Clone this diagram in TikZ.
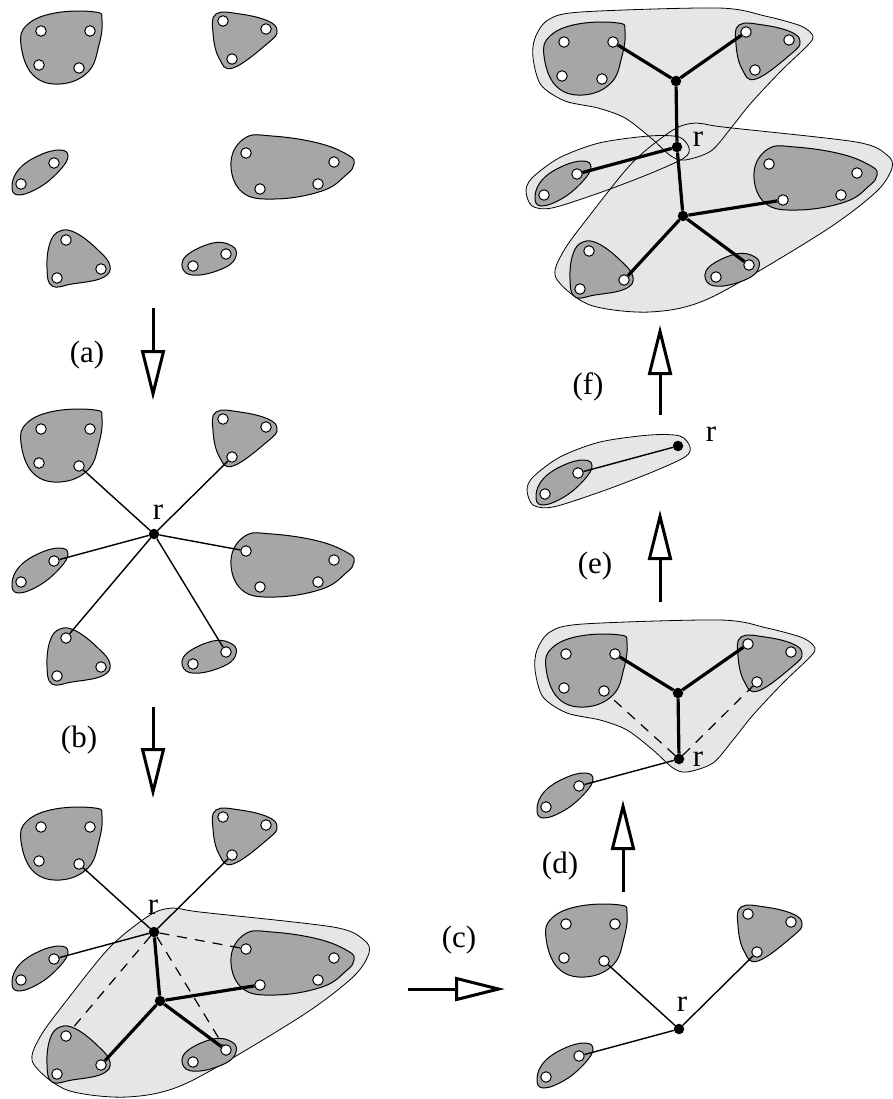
\documentclass[tikz,border=0pt]{standalone}
\usepackage{fontspec}
\setmainfont{Liberation Serif}
\usepackage{tikz}
\usetikzlibrary{arrows.meta,positioning}
\definecolor{blobgray}{RGB}{166,166,166}
\definecolor{zonegray}{RGB}{230,230,230}
\newcommand{\labelfont}{\fontsize{31}{34}\selectfont}
\tikzset{
  blob/.style={draw=black, line width=1pt, fill=blobgray},
  zoneline/.style={draw=black, line width=0.8pt},
  site/.style={circle, draw=black, fill=white, line width=1pt, minimum size=10.5pt, inner sep=0pt},
  hub/.style={circle, fill=black, minimum size=10.5pt, inner sep=0pt},
  thinedge/.style={line width=1.4pt},
  thickedge/.style={line width=3.2pt},
  dashedge/.style={line width=1.2pt, dash pattern=on 10pt off 8pt},
  steparrow/.style={line width=3pt, -{Triangle[open, length=50pt, width=24pt]}},
  steplabel/.style={font=\labelfont},
  rlabel/.style={font=\labelfont, inner sep=0pt}
}
% clusters, in the frame of panel (a)
\newcommand{\blobA}[1]{%
  \draw[blob] plot[smooth cycle, tension=0.7] coordinates {(27,25) (55,13) (95,12) (102,20) (99,45) (88,72) (60,84) (33,75) (21,45)};
  \foreach \n/\x/\y in {1/41/31, 2/90/31, 3/39/65, 4/79/68} \node[site] (#1-A\n) at (\x,\y) {};}
\newcommand{\blobB}[1]{%
  \draw[blob] plot[smooth cycle, tension=0.7] coordinates {(216,14) (240,14) (268,21) (277,31) (268,43) (233,68) (219,58) (213,33)};
  \foreach \n/\x/\y in {1/223/21, 2/266/29, 3/232/59} \node[site] (#1-B\n) at (\x,\y) {};}
\newcommand{\blobC}[1]{%
  \draw[blob] plot[smooth cycle, tension=0.7] coordinates {(68,156) (60,150) (40,155) (20,168) (12,185) (18,195) (40,187) (60,170)};
  \foreach \n/\x/\y in {1/54/163, 2/21/184} \node[site] (#1-C\n) at (\x,\y) {};}
\newcommand{\blobD}[1]{%
  \draw[blob] plot[smooth cycle, tension=0.7] coordinates {(231,162) (245,138) (272,136) (318,143) (348,155) (354,164) (346,175) (322,191) (275,199) (242,192)};
  \foreach \n/\x/\y in {1/246/153, 2/334/162, 3/318/184, 4/260/189} \node[site] (#1-D\n) at (\x,\y) {};}
\newcommand{\blobE}[1]{%
  \draw[blob] plot[smooth cycle, tension=0.7] coordinates {(60,231) (76,233) (98,250) (110,266) (102,278) (72,284) (52,286) (47,268) (50,243)};
  \foreach \n/\x/\y in {1/66/240, 2/101/269, 3/57/278} \node[site] (#1-E\n) at (\x,\y) {};}
\newcommand{\blobF}[1]{%
  \draw[blob] plot[smooth cycle, tension=0.7] coordinates {(213,243) (232,246) (236,256) (226,267) (200,275) (184,271) (186,256)};
  \foreach \n/\x/\y in {1/226/254, 2/193/266} \node[site] (#1-F\n) at (\x,\y) {};}
% merged zones
\newcommand{\zonelow}[1]{\path[#1] plot[smooth cycle] coordinates {(33,267) (67,294) (127,301) (187,287) (300,221) (353,181) (369,157) (364,144) (333,131) (200,116) (173,112) (150,119) (110,151) (67,204) (40,241)};}
\newcommand{\zonetop}[1]{\path[#1] plot[smooth cycle] coordinates {(10,47) (12,27) (25,9) (58,1) (195,-3) (242,5) (278,15) (290,25) (285,34) (258,60) (228,92) (208,117) (188,140) (162,149) (148,145) (128,127) (102,107) (75,97) (42,90) (18,74)};}
\newcommand{\zonepair}[1]{\path[#1] plot[smooth cycle] coordinates {(3,180) (9,167) (36,147) (76,132) (126,125) (156,126) (166,137) (161,147) (126,163) (76,182) (29,197) (9,195)};}

\begin{document}
\begin{tikzpicture}[x=1pt, y=-1pt]
  \useasboundingbox (0,0) rectangle (892,1099);
  % (a) six clusters
  \blobA{a} \blobB{a} \blobC{a} \blobD{a} \blobE{a} \blobF{a}
  % star from r
  \begin{scope}[shift={(0,398)}]
    \blobA{b} \blobB{b} \blobC{b} \blobD{b} \blobE{b} \blobF{b}
    \node[hub] (b-r) at (154,136) {};
    \node[rlabel] (b-rl) at (158,114) {r};
    \foreach \t in {A4,B3,C1,D1,E1,F1} \draw[thinedge] (b-r) -- (b-\t);
  \end{scope}
  % lower three clusters merged
  \begin{scope}[shift={(0,796)}]
    \zonelow{fill=zonegray, zoneline}
    \blobA{c} \blobB{c} \blobC{c} \blobD{c} \blobE{c} \blobF{c}
    \node[hub] (c-r) at (154,136) {};
    \node[hub] (c-s) at (160,205) {};
    \node[rlabel] (c-rl) at (153,111) {r};
    \foreach \t in {A4,B3,C1} \draw[thinedge] (c-r) -- (c-\t);
    \foreach \t in {D1,E1,F1} \draw[dashedge] (c-r) -- (c-\t);
    \draw[thickedge] (c-r) -- (c-s);
    \foreach \t in {D4,E2,F1} \draw[thickedge] (c-s) -- (c-\t);
  \end{scope}
  % (d) reduced star
  \begin{scope}[shift={(525,893)}]
    \blobA{d} \blobB{d} \blobC{d}
    \node[hub] (d-r) at (154,136) {};
    \node[rlabel] (d-rl) at (157,111) {r};
    \foreach \t in {A4,B3,C1} \draw[thinedge] (d-r) -- (d-\t);
  \end{scope}
  % (e) upper two merged
  \begin{scope}[shift={(525,623)}]
    \zonetop{fill=zonegray, zoneline}
    \blobA{e} \blobB{e} \blobC{e}
    \node[hub] (e-r) at (154,136) {};
    \node[hub] (e-s) at (153,70) {};
    \node[rlabel] (e-rl) at (173,136) {r};
    \draw[thinedge] (e-r) -- (e-C1);
    \foreach \t in {A4,B3} \draw[dashedge] (e-r) -- (e-\t);
    \draw[thickedge] (e-s) -- (e-r);
    \foreach \t in {A2,B1} \draw[thickedge] (e-s) -- (e-\t);
  \end{scope}
  % (f) last cluster
  \begin{scope}[shift={(524,310)}]
    \zonepair{fill=zonegray, zoneline}
    \blobC{f}
    \node[hub] (f-r) at (154,136) {};
    \node[rlabel] (f-rl) at (187,124) {r};
    \draw[thinedge] (f-r) -- (f-C1);
  \end{scope}
  % final tree
  \begin{scope}[shift={(523,11)}]
    \zonetop{fill=zonegray} \zonepair{fill=zonegray} \zonelow{fill=zonegray}
    \zonetop{zoneline} \zonepair{zoneline} \zonelow{zoneline}
    \blobA{g} \blobB{g} \blobC{g} \blobD{g} \blobE{g} \blobF{g}
    \node[hub] (g-r) at (154,136) {};
    \node[hub] (g-s) at (153,70) {};
    \node[hub] (g-t) at (160,205) {};
    \node[rlabel] (g-rl) at (175,128) {r};
    \foreach \t in {A2,B1} \draw[thickedge] (g-s) -- (g-\t);
    \draw[thickedge] (g-s) -- (g-r) -- (g-t);
    \draw[thickedge] (g-r) -- (g-C1);
    \foreach \t in {D4,E2,F1} \draw[thickedge] (g-t) -- (g-\t);
  \end{scope}
  % steps
  \coordinate (a-from) at (153,308); \coordinate (a-to) at (153,400);
  \coordinate (b-from) at (153,707); \coordinate (b-to) at (153,798);
  \coordinate (c-from) at (408,989); \coordinate (c-to) at (505,989);
  \coordinate (d-from) at (623,892); \coordinate (d-to) at (623,800);
  \coordinate (e-from) at (660,602); \coordinate (e-to) at (660,510);
  \coordinate (f-from) at (660,415); \coordinate (f-to) at (660,325);
  \foreach \p in {a,b,c,d,e,f} \draw[steparrow] (\p-from) -- (\p-to);
  \node[steplabel] (a-lab) at (87,355) {(a)};
  \node[steplabel] (b-lab) at (79,740) {(b)};
  \node[steplabel] (c-lab) at (459,940) {(c)};
  \node[steplabel] (d-lab) at (560,866) {(d)};
  \node[steplabel] (e-lab) at (595,566) {(e)};
  \node[steplabel] (f-lab) at (588,387) {(f)};
\end{tikzpicture}
\end{document}
